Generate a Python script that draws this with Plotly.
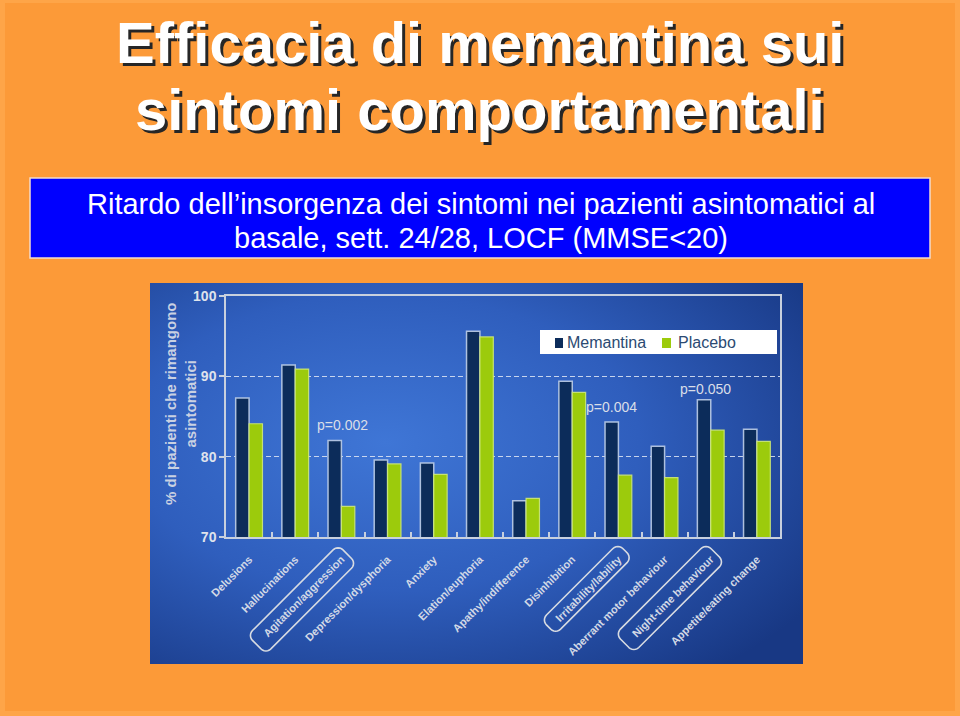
import base64
import math
import plotly.graph_objects as go

# ---------------- data ----------------
categories = [
    "Delusions", "Hallucinations", "Agitation/aggression", "Depression/dysphoria",
    "Anxiety", "Elation/euphoria", "Apathy/indifference", "Disinhibition",
    "Irritability/lability", "Aberrant motor behaviour", "Night-time behaviour",
    "Appetite/eating change",
]
memantina = [87.3, 91.4, 82.0, 79.6, 79.2, 95.6, 74.5, 89.4, 84.3, 81.3, 87.1, 83.4]
placebo = [84.1, 90.9, 73.8, 79.1, 77.8, 94.9, 74.8, 88.0, 77.7, 77.4, 83.3, 81.9]
series_names = ["Memantina", "Placebo"]
y_ticks = [70, 80, 90, 100]
p_values = {"Agitation/aggression": "p=0.002",
            "Irritability/lability": "p=0.004",
            "Night-time behaviour": "p=0.050"}
boxed = ["Agitation/aggression", "Irritability/lability", "Night-time behaviour"]
title_lines = ["Efficacia di memantina sui", "sintomi comportamentali"]
subtitle_lines = ["Ritardo dell\u2019insorgenza dei sintomi nei pazienti asintomatici al",
                  "basale, sett. 24/28, LOCF (MMSE<20)"]
y_title = "% di pazienti che rimangono<br>asintomatici"

# ---------------- layout geometry (pixels) ----------------
W, H = 960, 716
L, R, T, B = 226, 780, 296, 537
FONT = "Liberation Sans"


def PX(x):
    return (x - L) / (R - L)


def PY(y):
    return (B - y) / (B - T)


ORANGE = "#fc9a38"
MEM_C = "#0c2c5a"
PLA_C = "#9ccb0c"
LIGHT = "#d3d9e6"
colors = [MEM_C, PLA_C]

fig = go.Figure()
fig.add_trace(go.Bar(x=categories, y=memantina, name=series_names[0], showlegend=False,
                     marker=dict(color=MEM_C, line=dict(color="rgba(190,206,232,0.9)", width=1.5))))
fig.add_trace(go.Bar(x=categories, y=placebo, name=series_names[1], showlegend=False,
                     marker=dict(color=PLA_C, line=dict(color="rgba(205,232,120,0.9)", width=1.2))))

# background gradient of the embedded chart (SVG data URI)
gx0, gx1, gy0, gy1 = 150, 803, 283, 664
svg = (f'<svg xmlns="http://www.w3.org/2000/svg" width="{gx1-gx0}" height="{gy1-gy0}" '
       f'viewBox="0 0 {gx1-gx0} {gy1-gy0}" preserveAspectRatio="none">'
       '<defs><radialGradient id="g" cx="0.36" cy="0.42" r="0.78">'
       '<stop offset="0" stop-color="#3f76d6"/><stop offset="0.5" stop-color="#2f5ebd"/>'
       '<stop offset="1" stop-color="#183884"/></radialGradient></defs>'
       f'<rect width="{gx1-gx0}" height="{gy1-gy0}" fill="url(#g)"/></svg>')
src = "data:image/svg+xml;base64," + base64.b64encode(svg.encode()).decode()

images = [dict(source=src, xref="paper", yref="paper", x=PX(gx0), y=PY(gy0),
               sizex=PX(gx1) - PX(gx0), sizey=PY(gy0) - PY(gy1),
               xanchor="left", yanchor="top", sizing="stretch", layer="below")]

shapes = []
# lighter slide frame strips
EDGE = "#fea548"
for (x0, y0, x1, y1) in [(0, 0, 5, H), (0, 0, W, 3), (955, 0, W, H), (0, 711, W, H)]:
    shapes.append(dict(type="rect", xref="paper", yref="paper", x0=PX(x0), x1=PX(x1),
                       y0=PY(y1), y1=PY(y0), fillcolor=EDGE, line=dict(width=0), layer="below"))
# subtitle blue box
shapes.append(dict(type="rect", xref="paper", yref="paper", x0=PX(30), x1=PX(930),
                   y0=PY(258), y1=PY(178), fillcolor="#0000ff",
                   line=dict(color="#f3dccb", width=1.5), layer="above"))

# legend box (drawn by hand to match the reference proportions)
shapes.append(dict(type="rect", xref="paper", yref="paper", x0=PX(540), x1=PX(777),
                   y0=PY(354), y1=PY(330), fillcolor="white", line=dict(width=0), layer="above"))
legend_sq = [(555, 563), (662, 671)]
legend_tx = [565, 676]
for (sx0, sx1), c in zip(legend_sq, colors):
    shapes.append(dict(type="rect", xref="paper", yref="paper", x0=PX(sx0), x1=PX(sx1),
                       y0=PY(348), y1=PY(338), fillcolor=c, line=dict(width=0), layer="above"))

# rounded boxes around highlighted labels (rotated -45 deg)
LAB_Y = 557
box_params = {"Agitation/aggression": (60, 0, 128, 26),
              "Irritability/lability": (47, -2, 108, 20),
              "Night-time behaviour": (60, -2, 128, 26)}
c45 = math.cos(math.radians(45))
ux, uy = -c45, c45
vx, vy = c45, c45
for cat in boxed:
    i = categories.index(cat)
    along, perp, length, width = box_params[cat]
    ax = L + (i + 0.5) * (R - L) / len(categories) + 3
    cx = ax + ux * along + vx * perp
    cy = LAB_Y + uy * along + vy * perp
    a, b, r = length / 2, width / 2, 7
    pts = []
    corners = [(a - r, b - r, 0), (-(a - r), b - r, 90), (-(a - r), -(b - r), 180), ((a - r), -(b - r), 270)]
    for (sx, sy, start) in corners:
        for k in range(7):
            th = math.radians(start + k * 15)
            s = sx + r * math.cos(th)
            t = sy + r * math.sin(th)
            pts.append((cx + s * ux + t * vx, cy + s * uy + t * vy))
    path = "M " + " L ".join(f"{PX(px):.5f},{PY(py):.5f}" for px, py in pts) + " Z"
    shapes.append(dict(type="path", xref="paper", yref="paper", path=path,
                       line=dict(color="#d7dbe2", width=1.6), layer="above"))

annotations = []
# title with shadow
title_y = [42, 109]
for line, yy in zip(title_lines, title_y):
    annotations.append(dict(text=line, xref="paper", yref="paper", x=PX(480), y=PY(yy),
                            showarrow=False, xanchor="center", yanchor="middle",
                            font=dict(family=FONT, size=58, color="white", weight="bold",
                                      shadow="3px 3px 0px #262626")))
# subtitle
for line, yy in zip(subtitle_lines, [204, 238]):
    annotations.append(dict(text=line, xref="paper", yref="paper", x=PX(481), y=PY(yy),
                            showarrow=False, xanchor="center", yanchor="middle",
                            font=dict(family=FONT, size=29, color="white")))
# legend texts
for name, tx in zip(series_names, legend_tx):
    annotations.append(dict(text=name, xref="paper", yref="paper", x=PX(tx), y=PY(342.5),
                            showarrow=False, xanchor="left", yanchor="middle",
                            font=dict(family=FONT, size=16, color="#2b4a72")))
# y-axis title
annotations.append(dict(text=y_title, xref="paper", yref="paper", x=PX(180), y=PY(404),
                        textangle=-90, showarrow=False, xanchor="center", yanchor="middle",
                        font=dict(family=FONT, size=15, color="#c9d1e2", weight="bold")))
# p-values
p_offsets = {"Agitation/aggression": (0.03, 2.0),
             "Irritability/lability": (-0.15, 1.9),
             "Night-time behaviour": (-0.12, 1.3)}
for cat, txt in p_values.items():
    i = categories.index(cat)
    dx, dy = p_offsets[cat]
    annotations.append(dict(text=txt, x=i + dx, y=memantina[i] + dy, xref="x", yref="y",
                            showarrow=False, xanchor="center", yanchor="middle",
                            font=dict(family=FONT, size=14, color="#d9dee8")))

fig.update_layout(
    width=W, height=H,
    margin=dict(l=L, r=W - R, t=T, b=H - B, pad=0),
    paper_bgcolor=ORANGE,
    plot_bgcolor="rgba(0,0,0,0)",
    barmode="group", bargap=0.42, bargroupgap=0,
    font=dict(family=FONT),
    showlegend=False,
    images=images, shapes=shapes, annotations=annotations,
    xaxis=dict(type="category", tickangle=-45, ticks="inside", tickson="boundaries",
               ticklen=5, tickcolor="#c8d0de", tickwidth=1.5,
               showline=True, linecolor="#c8d0de", linewidth=1.5, mirror=True,
               showgrid=False, ticklabelstandoff=10,
               tickfont=dict(family=FONT, size=11, color=LIGHT, weight="bold")),
    yaxis=dict(range=[70, 100], tickvals=y_ticks, ticks="outside", ticklen=5,
               tickcolor="#c8d0de", tickwidth=1.5,
               showline=True, linecolor="#c8d0de", linewidth=1.5, mirror=True,
               showgrid=True, gridcolor="rgba(225,232,245,0.85)", gridwidth=1.3,
               griddash="5px,3px", zeroline=False,
               tickfont=dict(family=FONT, size=14, color="#dfe3ec", weight="bold")),
)

fig.write_html("out.html")
